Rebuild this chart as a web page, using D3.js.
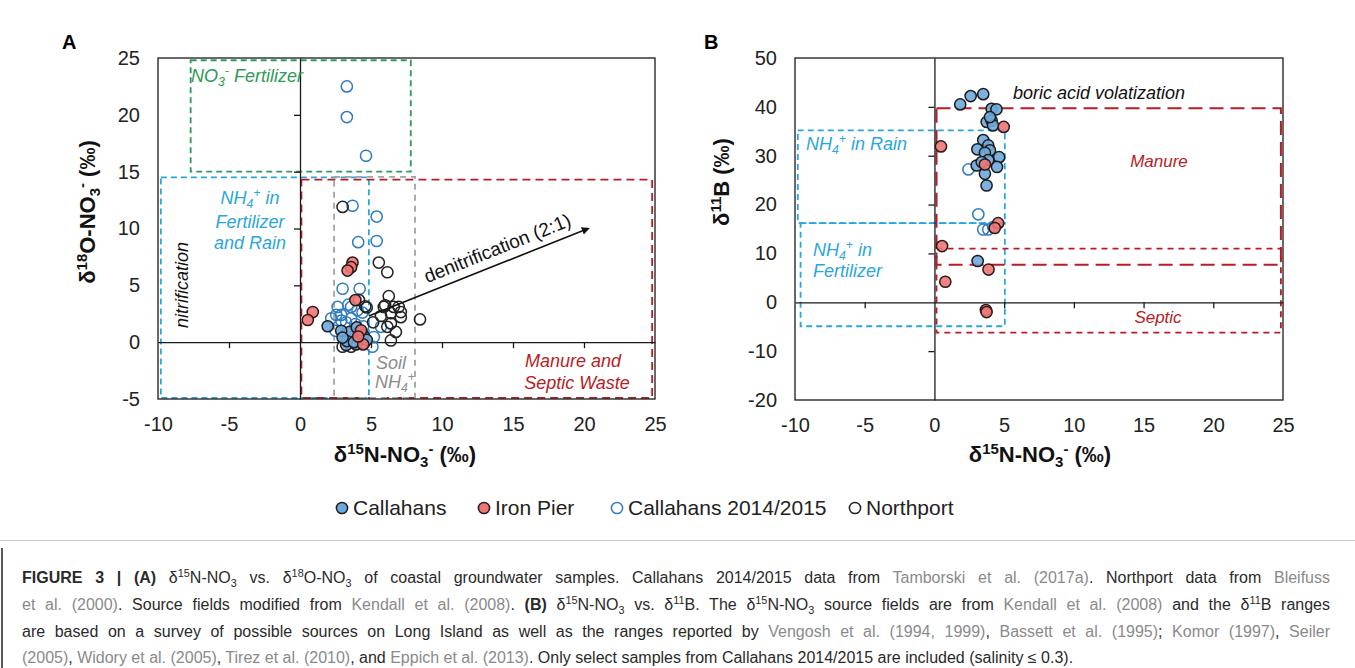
<!DOCTYPE html>
<html>
<head>
<meta charset="utf-8">
<script src="https://cdn.jsdelivr.net/npm/d3@7"></script>
<style>
  body { margin: 0; background: #fff; }
  svg { display: block; font-family: 'Liberation Sans', Arial, sans-serif; }
</style>
</head>
<body>
<script>
const width = 1355;
const height = 668;

// tick values
const xTicks = [-10, -5, 0, 5, 10, 15, 20, 25];
const yTicksA = [-5, 0, 5, 10, 15, 20, 25];
const yTicksB = [-20, -10, 0, 10, 20, 30, 40, 50];

// panel A: [d15N, d18O]
const callahansA = [[1.95, 1.4], [3.25, -0.25], [3.7, 0.5], [4.15, 0.2], [3.5, 0.9], [4.45, 0.6], [3.95, -0.2], [2.9, 1.0], [4.7, 0.2], [3.3, 0.1], [4.0, 1.3], [3.0, 0.4], [3.8, 0.0]];
const ironPierA = [[0.9, 2.65], [0.55, 1.95], [3.7, 7.0], [3.6, 6.6], [3.35, 6.3], [3.9, 3.7], [4.3, 1.05], [4.45, -0.2], [4.1, 0.5]];
const callahans1415A = [[3.3, 22.5], [3.3, 19.8], [4.65, 16.4], [3.7, 12.0], [5.4, 11.05], [4.1, 8.8], [5.4, 8.9], [3.0, 4.7], [4.2, 4.7], [2.65, 3.1], [3.6, 3.1], [4.05, 2.8], [2.9, 2.4], [3.6, 2.1], [2.55, 2.4], [3.25, 1.75], [5.7, 1.35], [5.2, 0.45], [5.1, -0.4], [4.45, 1.4], [2.2, 2.1], [3.4, 3.3], [4.4, 2.6], [2.9, 1.9], [3.9, 1.6], [2.5, 1.0]];
const northportA = [[3.0, 11.9], [5.55, 7.0], [6.15, 6.15], [6.25, 4.05], [6.0, 3.25], [6.95, 3.1], [7.1, 2.65], [7.1, 2.2], [6.4, 2.55], [6.4, 1.65], [6.75, 0.9], [6.4, 0.15], [8.45, 2.0], [4.6, 3.15], [4.15, 3.7], [4.7, 3.05], [5.9, 3.1], [6.6, 3.1], [6.15, 1.35], [3.0, -0.4], [3.6, -0.4], [4.5, -0.1], [5.15, 1.75], [5.7, 2.3], [3.3, 0.8], [4.2, 0.9]];

// panel B: [d15N, d11B]
const callahansB = [[1.85, 40.5], [2.6, 42.2], [3.5, 42.6], [4.1, 39.6], [4.45, 39.5], [3.75, 36.9], [4.1, 37.2], [4.2, 36.2], [3.98, 37.9], [3.5, 33.2], [3.08, 31.3], [3.86, 32.1], [3.98, 31.1], [3.62, 30.6], [4.64, 29.7], [3.03, 28.0], [4.49, 27.7], [3.62, 26.3], [3.74, 23.9], [3.86, 29.1], [3.39, 28.7], [3.1, 8.45]];
const ironPierB = [[4.97, 35.9], [0.47, 31.9], [3.62, 28.2], [4.57, 16.2], [4.33, 15.2], [0.55, 11.5], [3.88, 6.7], [0.78, 4.2], [3.69, -1.6], [3.74, -2.0]];
const callahans1415B = [[2.44, 27.2], [3.15, 18.0], [3.5, 14.9], [3.86, 14.9], [4.21, 15.4]];

// source fields [x0, x1, y0, y1]
const fieldsA = [
    { name: 'no3', ext: [-7.7, 7.8, 15.0, 24.8] },
    { name: 'nh4', ext: [-9.8, 4.85, -4.9, 14.5] },
    { name: 'manure', ext: [0.1, 24.8, -4.9, 14.3] },
    { name: 'soil', ext: [2.4, 8.1, -4.9, 14.55] }
];
const fieldsB = [
    { name: 'rain', ext: [-9.8, 5.05, 16.2, 35.2] },
    { name: 'fert', ext: [-9.6, 5.05, -4.9, 16.2] },
    { name: 'manure', ext: [0.15, 24.85, 7.7, 39.7] },
    { name: 'septic', ext: [0.15, 24.85, -6.2, 11.0] }
];
// denitrification arrow start / end
const denitArrow = [[4.85, 2.3], [20.3, 10.0]];

const legendItems = ['Callahans', 'Iron Pier', 'Callahans 2014/2015', 'Northport'];

const fieldStyle = {
    no3: { stroke: '#2e9a56', dash: '6,4' },
    nh4: { stroke: '#2aa6dc', dash: '6,4' },
    manure: { stroke: '#b81c24', dash: '8,5' },
    soil: { stroke: '#a3a3a3', dash: '6,5' },
    rain: { stroke: '#2aa6dc', dash: '6,4' },
    fert: { stroke: '#2aa6dc', dash: '6,4' },
    septic: { stroke: '#b81c24', dash: '6,5' }
};
const markStyle = {
    cal: { fill: '#6fa8dc', stroke: '#1c1c1c' },
    iron: { fill: '#f07575', stroke: '#2a1a1a' },
    cal1415: { fill: 'none', stroke: '#2f7bc0' },
    north: { fill: 'none', stroke: '#222' }
};

const svg = d3.select('body')
    .append('svg')
    .attr('width', width)
    .attr('height', height);

// writes text with sub/superscript parts
function rich(sel, parts, size) {
    let shift = 0;
    parts.forEach(p => {
        const t = sel.append('tspan').text(p[0]);
        let target = 0;
        if (p[1] === 'sup') target = -size * 0.38;
        if (p[1] === 'sub') target = size * 0.22;
        if (p[1] === 'sup' || p[1] === 'sub') t.style('font-size', (size * 0.68) + 'px');
        if (target !== shift) { t.attr('dy', target - shift); shift = target; }
        if (p[2]) t.attr('fill', p[2]);
        if (p[3]) t.style('font-weight', p[3]);
    });
    return sel;
}

function drawPanel(opt) {
    const g = svg.append('g');
    const x = d3.scaleLinear().domain([-10, 25]).range(opt.xr);
    const y = d3.scaleLinear().domain(opt.yd).range(opt.yr);

    // source fields
    opt.fields.forEach(f => {
        const s = fieldStyle[f.name];
        const big = f.name === 'manure' && opt.id === 'B';
        g.append('rect')
            .attr('x', x(f.ext[0]))
            .attr('y', y(f.ext[3]))
            .attr('width', x(f.ext[1]) - x(f.ext[0]))
            .attr('height', y(f.ext[2]) - y(f.ext[3]))
            .attr('fill', 'none')
            .attr('stroke', s.stroke)
            .attr('stroke-width', big ? 2 : 1.8)
            .attr('stroke-dasharray', big ? '14,7' : s.dash);
    });

    // zero axes with ticks
    const xAxis = g.append('g')
        .attr('transform', `translate(0,${y(0)})`)
        .call(d3.axisBottom(x).tickValues([-5, 5, 10, 15, 20]).tickSize(6).tickSizeOuter(0).tickFormat(''));
    const yAxis = g.append('g')
        .attr('transform', `translate(${x(0)},0)`)
        .call(d3.axisLeft(y).tickValues(opt.yTicks.filter(v => v !== 0 && v !== opt.yd[0] && v !== opt.yd[1])).tickSize(6).tickSizeOuter(0).tickFormat(''));
    [xAxis, yAxis].forEach(a => {
        a.selectAll('path, line').attr('stroke', '#1a1a1a').attr('stroke-width', 1.3);
    });

    // frame
    g.append('rect')
        .attr('x', opt.xr[0]).attr('y', opt.yr[1])
        .attr('width', opt.xr[1] - opt.xr[0]).attr('height', opt.yr[0] - opt.yr[1])
        .attr('fill', 'none').attr('stroke', '#1a1a1a').attr('stroke-width', 1.3);

    // tick labels (plain hyphen for negatives)
    const fmt = d => String(d);
    const xl = g.append('g')
        .attr('transform', `translate(0,${opt.yr[0]})`)
        .call(d3.axisBottom(x).tickValues(xTicks).tickSize(0).tickPadding(18).tickFormat(fmt));
    const yl = g.append('g')
        .attr('transform', `translate(${opt.xr[0]},0)`)
        .call(d3.axisLeft(y).tickValues(opt.yTicks).tickSize(0).tickPadding(18).tickFormat(fmt));
    [xl, yl].forEach(a => {
        a.select('.domain').remove();
        a.attr('font-family', null).attr('font-size', null);
        a.selectAll('text').style('font-size', '20px').attr('fill', '#222');
    });

    return { g, x, y };
}

const A = drawPanel({ id: 'A', xr: [158, 655], yd: [-5, 25], yr: [399, 58], yTicks: yTicksA, fields: fieldsA });
const B = drawPanel({ id: 'B', xr: [795, 1283], yd: [-20, 50], yr: [400, 58], yTicks: yTicksB, fields: fieldsB });

function drawDots(p, data, st) {
    p.g.append('g').selectAll('circle')
        .data(data)
        .enter()
        .append('circle')
        .attr('cx', d => p.x(d[0]))
        .attr('cy', d => p.y(d[1]))
        .attr('r', 5.6)
        .attr('fill', st.fill)
        .attr('fill-opacity', 0.9)
        .attr('stroke', st.stroke)
        .attr('stroke-width', 1.5);
}
drawDots(A, callahans1415A, markStyle.cal1415);
drawDots(A, northportA, markStyle.north);
drawDots(A, callahansA, markStyle.cal);
drawDots(A, ironPierA, markStyle.iron);
drawDots(B, callahans1415B, markStyle.cal1415);
drawDots(B, callahansB, markStyle.cal);
drawDots(B, ironPierB, markStyle.iron);

// arrow
svg.append('defs').append('marker')
    .attr('id', 'ah').attr('viewBox', '0 0 10 10')
    .attr('refX', 8).attr('refY', 5)
    .attr('markerWidth', 5).attr('markerHeight', 5)
    .attr('orient', 'auto')
    .append('path').attr('d', 'M0,0 L10,5 L0,10 z').attr('fill', '#111');
A.g.append('line')
    .attr('x1', A.x(denitArrow[0][0])).attr('y1', A.y(denitArrow[0][1]))
    .attr('x2', A.x(denitArrow[1][0])).attr('y2', A.y(denitArrow[1][1]))
    .attr('stroke', '#111').attr('stroke-width', 1.6)
    .attr('marker-end', 'url(#ah)');
const ang = Math.atan2(A.y(denitArrow[1][1]) - A.y(denitArrow[0][1]), A.x(denitArrow[1][0]) - A.x(denitArrow[0][0])) * 180 / Math.PI;
A.g.append('text')
    .attr('transform', `translate(${A.x(14.3)},${A.y(7.0)}) rotate(${ang}) translate(0,-9)`)
    .attr('text-anchor', 'middle')
    .style('font-size', '19px').attr('fill', '#111')
    .text('denitrification (2:1)');

// annotations
function note(x, y, parts, color, opts = {}) {
    const t = svg.append('text')
        .attr('x', x).attr('y', y)
        .attr('fill', color)
        .style('font-size', (opts.size || 18) + 'px')
        .style('font-style', 'italic')
        .attr('text-anchor', opts.anchor || 'start');
    if (opts.rotate) t.attr('transform', `rotate(${opts.rotate},${x},${y})`);
    rich(t, parts, opts.size || 18);
}
note(191, 82, [['NO'], ['3', 'sub'], ['-', 'sup'], [' Fertilizer']], '#2e9a56');
note(250, 204, [['NH'], ['4', 'sub'], ['+', 'sup'], [' in']], '#2aa6dc', { anchor: 'middle' });
note(250, 228, [['Fertilizer']], '#2aa6dc', { anchor: 'middle' });
note(250, 249, [['and Rain']], '#2aa6dc', { anchor: 'middle' });
note(188, 285, [['nitrification']], '#111', { anchor: 'middle', rotate: -90 });
note(376, 369, [['Soil']], '#8c8c8c');
note(375, 388, [['NH'], ['4', 'sub'], ['+', 'sup']], '#8c8c8c');
note(573, 367, [['Manure  and']], '#b81c24', { anchor: 'middle' });
note(577, 389, [['Septic Waste']], '#b81c24', { anchor: 'middle' });

note(1013, 99, [['boric acid volatization']], '#111');
note(1159, 167, [['Manure']], '#b81c24', { anchor: 'middle', size: 17 });
note(1158, 323, [['Septic']], '#b81c24', { anchor: 'middle', size: 17 });
note(806, 150, [['NH'], ['4', 'sub'], ['+', 'sup'], [' in Rain']], '#2aa6dc');
note(813, 256, [['NH'], ['4', 'sub'], ['+', 'sup'], [' in']], '#2aa6dc');
note(813, 277, [['Fertilizer']], '#2aa6dc');

// axis titles
function title(x, y, parts, rotate) {
    const t = svg.append('text')
        .attr('x', x).attr('y', y)
        .attr('text-anchor', 'middle')
        .style('font-size', '22px').style('font-weight', 'bold').attr('fill', '#111');
    if (rotate) t.attr('transform', `rotate(-90,${x},${y})`);
    rich(t, parts, 22);
}
title(405, 462, [['δ'], ['15', 'sup'], ['N-NO'], ['3', 'sub'], ['-', 'sup'], [' (‰)']]);
title(1040, 462, [['δ'], ['15', 'sup'], ['N-NO'], ['3', 'sub'], ['-', 'sup'], [' (‰)']]);
title(95, 212, [['δ'], ['18', 'sup'], ['O-NO'], ['3', 'sub'], ['-', 'sup'], [' (‰)']], true);
title(729, 182, [['δ'], ['11', 'sup'], ['B (‰)']], true);

svg.append('text').attr('x', 62).attr('y', 49).style('font-size', '20px').style('font-weight', 'bold').text('A');
svg.append('text').attr('x', 704).attr('y', 49).style('font-size', '20px').style('font-weight', 'bold').text('B');

// legend
const legendX = [342, 484, 617, 855];
const legendMarks = [markStyle.cal, markStyle.iron, markStyle.cal1415, markStyle.north];
const legend = svg.append('g');
legendItems.forEach((name, i) => {
    legend.append('circle')
        .attr('cx', legendX[i]).attr('cy', 508).attr('r', 5.6)
        .attr('fill', legendMarks[i].fill).attr('stroke', legendMarks[i].stroke).attr('stroke-width', 1.5);
    legend.append('text')
        .attr('x', legendX[i] + 11).attr('y', 515)
        .style('font-size', '21px').attr('fill', '#222')
        .text(name);
});

// frame lines
svg.append('line').attr('x1', 0).attr('x2', width).attr('y1', 540.5).attr('y2', 540.5).attr('stroke', '#c8c8c8');
svg.append('line').attr('x1', 2).attr('x2', 2).attr('y1', 548).attr('y2', height).attr('stroke', '#222').attr('stroke-width', 1.5);

// caption
const refC = '#8a8a8a';
const caption = [
    [['FIGURE 3 | (A)', '', null, 'bold'], [' δ'], ['15', 'sup'], ['N-NO'], ['3', 'sub'], [' vs. δ'], ['18', 'sup'], ['O-NO'], ['3', 'sub'], [' of coastal groundwater samples. Callahans 2014/2015 data from '], ['Tamborski et al. (2017a)', '', refC], ['. Northport data from '], ['Bleifuss', '', refC]],
    [['et al. (2000)', '', refC], ['. Source fields modified from '], ['Kendall et al. (2008)', '', refC], ['. '], ['(B)', '', null, 'bold'], [' δ'], ['15', 'sup'], ['N-NO'], ['3', 'sub'], [' vs. δ'], ['11', 'sup'], ['B. The δ'], ['15', 'sup'], ['N-NO'], ['3', 'sub'], [' source fields are from '], ['Kendall et al. (2008)', '', refC], [' and the δ'], ['11', 'sup'], ['B ranges']],
    [['are based on a survey of possible sources on Long Island as well as the ranges reported by '], ['Vengosh et al. (1994, 1999)', '', refC], [', '], ['Bassett et al. (1995)', '', refC], ['; '], ['Komor (1997)', '', refC], [', '], ['Seiler', '', refC]],
    [['(2005)', '', refC], [', '], ['Widory et al. (2005)', '', refC], [', '], ['Tirez et al. (2010)', '', refC], [', and '], ['Eppich et al. (2013)', '', refC], ['. Only select samples from Callahans 2014/2015 are included (salinity ≤ 0.3).']]
];
const capY = [583, 610, 637, 663];
caption.forEach((line, i) => {
    const t = svg.append('text')
        .attr('x', 22).attr('y', capY[i])
        .style('font-size', '16px').attr('fill', '#2a2a2a');
    rich(t, line, 16);
    if (i < 3) {
        // justify by widening word gaps
        const natural = t.node().getComputedTextLength();
        const gaps = line.map(p => p[0]).join('').split(' ').length - 1;
        t.style('word-spacing', ((1308 - natural) / gaps) + 'px');
    }
});
</script>
</body>
</html>
